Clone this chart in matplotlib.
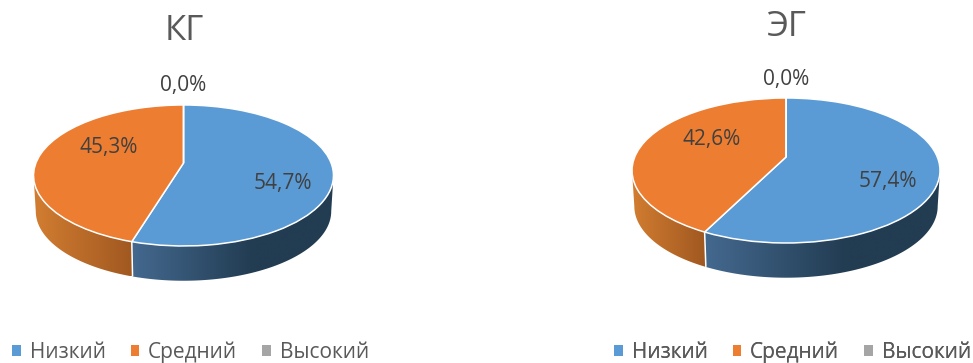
import numpy as np
import matplotlib
matplotlib.use("Agg")
import matplotlib.pyplot as plt
from matplotlib.colors import to_rgb
from matplotlib.patches import Patch, Polygon
from matplotlib.transforms import Transform

plt.rcParams["font.family"] = ["Open Sans", "DejaVu Sans"]

# Data
categories = ["Низкий", "Средний", "Высокий"]
kg_values = [54.7, 45.3, 0.0]
eg_values = [57.4, 42.6, 0.0]
kg_labels = ["54,7%", "45,3%", "0,0%"]
eg_labels = ["57,4%", "42,6%", "0,0%"]

# Colours
slice_colors = ["#5B9BD5", "#ED7D31", "#A5A5A5"]
wall_colors = {
    0: ("#44698F", "#223C52"),
    1: ("#D27D31", "#A05820"),
}
title_color = "#595959"
label_color = "#404040"


class PerspectiveDisc(Transform):
    """Projects the unit disc onto a receding plane, seen from the front."""

    input_dims = 2
    output_dims = 2
    is_separable = False
    has_inverse = False

    def __init__(self, cx, cy, rx, ry, k, scale=1.0, drop=0.0):
        super().__init__()
        self.cx, self.cy, self.rx, self.ry = cx, cy, rx, ry
        self.k, self.scale, self.drop = k, scale, drop

    def transform_non_affine(self, values):
        values = np.asarray(values, dtype=float)
        u, v = values[:, 0], values[:, 1]
        w = 1 + self.k * v
        x = self.cx + self.scale * self.rx * u / w
        y = self.cy + self.drop - self.scale * self.ry * v / w
        return np.column_stack([x, y])


def horizontal_gradient(light, dark, reach):
    """RGB strip running from light to dark, flat after the `reach` fraction."""
    t = np.clip(np.linspace(0, 1, 400) / reach, 0, 1)[:, None]
    a, b = np.array(to_rgb(light)), np.array(to_rgb(dark))
    return (a + (b - a) * t)[None, :, :]


def draw_pie(ax, values, labels, title, geom, label_pos, title_pos, legend_x, legend_y):
    top = PerspectiveDisc(geom["cx"], geom["cy"], geom["rx"], geom["ry"], geom["k"])
    bottom = PerspectiveDisc(geom["cx"], geom["cy"], geom["rx"], geom["ry"], geom["k"],
                             scale=geom["scale"], drop=geom["drop"])

    # Side wall, slice by slice, clockwise from twelve o'clock.
    # The wall ends where the rim is widest on screen, which is its silhouette.
    edges = np.cumsum([0.0] + list(values)) / sum(values) * 2 * np.pi
    widest = np.arccos(-geom["k"])
    seam = None
    for i, (a0, a1) in enumerate(zip(edges[:-1], edges[1:])):
        if a1 <= a0 or i not in wall_colors:
            continue
        angles = np.linspace(max(a0, widest), min(a1, 2 * np.pi - widest), 300)
        ring = np.column_stack([np.sin(angles), np.cos(angles)])
        upper = top.transform(ring)
        lower = bottom.transform(ring)
        outline = np.vstack([upper, lower[::-1]])
        x0, x1 = outline[:, 0].min(), outline[:, 0].max()
        y0, y1 = outline[:, 1].min(), outline[:, 1].max()
        light, dark = wall_colors[i]
        image = ax.imshow(horizontal_gradient(light, dark, 0.6 if i == 0 else 1.0),
                          extent=(x0, x1, y1, y0), aspect="auto", zorder=1,
                          interpolation="bilinear")
        image.set_clip_path(Polygon(outline, closed=True, transform=ax.transData))
        if i == 0:
            seam = (upper[-1], lower[-1])
    ax.plot([seam[0][0], seam[1][0]], [seam[0][1], seam[1][1]],
            color="white", lw=1.1, zorder=2, solid_capstyle="butt")

    # Top face
    wedges, _ = ax.pie(values, colors=slice_colors, startangle=90, counterclock=False,
                       radius=1.0, wedgeprops={"edgecolor": "white", "linewidth": 1.1})
    for wedge in wedges:
        wedge.set_transform(top + ax.transData)
        wedge.set_zorder(3)

    for text, (x, y) in zip(labels, label_pos):
        ax.text(x, y, text, ha="center", va="center", fontsize=15,
                color=label_color, zorder=4)
    ax.text(title_pos[0], title_pos[1], title, ha="center", va="center", fontsize=25,
            color=title_color, zorder=4)

    handles = [Patch(facecolor=c, edgecolor="none") for c in slice_colors]
    legend = ax.legend(handles, categories, ncol=3, loc="lower left",
                       bbox_to_anchor=(legend_x, legend_y), bbox_transform=ax.transData,
                       frameon=False, fontsize=15, labelcolor=title_color,
                       handlelength=0.42, handleheight=0.42, handletextpad=0.42,
                       columnspacing=1.2, borderpad=0, borderaxespad=0)
    ax.add_artist(legend)


fig = plt.figure(figsize=(9.73, 3.63), dpi=100, facecolor="white")
ax = fig.add_axes([0, 0, 1, 1])

draw_pie(ax, kg_values, kg_labels, "КГ",
         geom={"cx": 183.5, "cy": 163, "rx": 147.6, "ry": 68.3, "k": 0.177,
               "scale": 0.985, "drop": 36},
         label_pos=[(283, 183), (109, 147), (183, 86)],
         title_pos=(184, 31), legend_x=12, legend_y=363)
draw_pie(ax, eg_values, eg_labels, "ЭГ",
         geom={"cx": 786, "cy": 157, "rx": 151.3, "ry": 70, "k": 0.186,
               "scale": 0.985, "drop": 36},
         label_pos=[(888, 181), (712, 139), (786, 79)],
         title_pos=(787, 27), legend_x=614, legend_y=363)

ax.set_xlim(0, 973)
ax.set_ylim(363, 0)
ax.set_aspect("auto")
ax.axis("off")

fig.savefig("out.png", dpi=100, facecolor="white")
